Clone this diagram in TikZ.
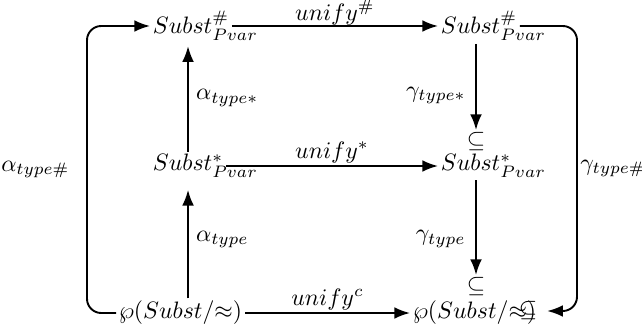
\documentclass[tikz,border=0pt]{standalone}
\usepackage{amsmath}
\usepackage{amssymb}
\usepackage{tikz}
\usetikzlibrary{positioning, arrows.meta}

\begin{document}
\begin{tikzpicture}[
        x=0.0148cm, y=-0.0148cm,
        % Define common styles for the nodes and text
        obj/.style={inner sep=1pt, anchor=west},
        lbl/.style={inner sep=1pt},
        arrow/.style={-Latex, thick},
        wrap/.style={-Latex, thick, rounded corners=6pt}
    ]
    \useasboundingbox (0,0) rectangle (642,335);

    % Define the nodes
    \node[obj] (tl) at (150,26) {$Subst^{\#}_{\rlap{$\scriptstyle Pvar$}}$};
    \node[obj] (tr) at (438,26) {$Subst^{\#}_{\rlap{$\scriptstyle Pvar$}}$};

    \node[obj] (ml) at (150,166) {$Subst^{*}_{\rlap{$\scriptstyle Pvar$}}$};
    \node[obj] (mr) at (438,166) {$Subst^{*}_{\rlap{$\scriptstyle Pvar$}}$};

    \node[obj] (bl) at (116,313) {$\wp(Subst/{\approx})$};
    \node[obj] (br) at (410,313) {$\wp(Subst/{\approx})$};

    % the inclusion marks at the arrow ends
    \node[lbl] (sub1) at (476,142) {$\subseteq$};
    \node[lbl] (sub2) at (476,287) {$\subseteq$};
    \node[lbl] (sub3) at (528,311) {$\subseteq$};

    \coordinate (lc) at (87,0);
    \coordinate (rc) at (577,0);

    % Draw the arrows with labels
    \draw[arrow] (tl) -- node[lbl, above, inner sep=0pt] {$unify^{\#}$} (tr);
    \draw[arrow] (ml) -- node[lbl, above] {$unify^{*}$} (mr);
    \draw[arrow] (bl) -- node[lbl, above] {$unify^{c}$} (br);

    \draw[arrow, shorten >=1pt] (ml.north) -- node[lbl, right=2pt] {$\alpha_{type*}$} (ml.north |- tl.south);
    \draw[arrow, shorten >=4pt] (bl.north -| ml) -- node[lbl, right=2pt] {$\alpha_{type}$} (ml.south);

    \draw[arrow] (tr.south -| sub1) -- node[lbl, left=3pt, pos=0.6] {$\gamma_{type*}$} (sub1);
    \draw[arrow] (mr.south -| sub2) -- node[lbl, left=3pt, pos=0.62] {$\gamma_{type}$} (sub2);

    \draw[wrap] (bl.west) -- (bl.west -| lc) -- node[lbl, left=6pt] {$\alpha_{type\#}$} (tl.west -| lc) -- (tl.west);
    \draw[wrap, shorten >=3pt] (tr.east) -- (tr.east -| rc) -- node[lbl, right=0pt] {$\gamma_{type\#}$} (sub3.east -| rc) -- (sub3.east);

\end{tikzpicture}
\end{document}
